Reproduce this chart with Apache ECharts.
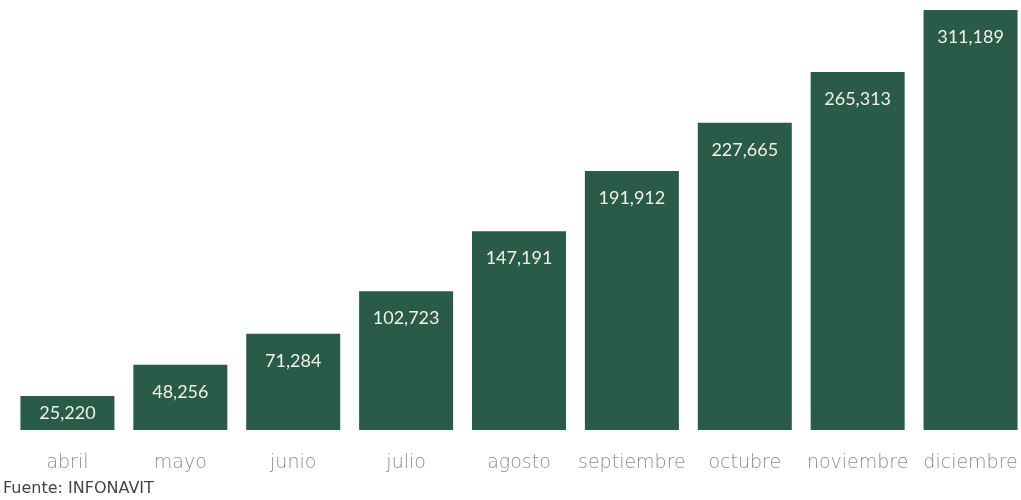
<!DOCTYPE html>
<html>
<head>
<meta charset="utf-8">
<script src="https://cdn.jsdelivr.net/npm/echarts@6/dist/echarts.min.js"></script>
<style>
  html, body { margin: 0; padding: 0; background: #ffffff; }
  #chart { width: 1021px; height: 500px; }
</style>
</head>
<body>
<div id="chart"></div>
<script>
// Monthly cumulative values
const months = ['abril', 'mayo', 'junio', 'julio', 'agosto', 'septiembre', 'octubre', 'noviembre', 'diciembre'];
const values = [25220, 48256, 71284, 102723, 147191, 191912, 227665, 265313, 311189];
const sourceText = 'Fuente: INFONAVIT';

const chart = echarts.init(document.getElementById('chart'));

// The shortest bar keeps its label a little closer to its top edge
const barData = values.map((v, i) => i === 0
  ? { value: v, label: { distance: 8 } }
  : v);

chart.setOption({
  animation: false,
  backgroundColor: '#ffffff',
  grid: {
    left: 11, width: 1016, top: 10, bottom: 70,
    containLabel: false,
    outerBoundsMode: 'none'
  },
  xAxis: {
    type: 'category',
    data: months,
    axisLine: { show: false },
    axisTick: { show: false },
    axisLabel: {
      interval: 0,
      hideOverlap: false,
      color: '#8c8c8c',
      fontFamily: 'DejaVu Sans',
      fontWeight: 200,
      fontSize: 19,
      margin: 24
    }
  },
  yAxis: {
    type: 'value',
    min: 0,
    max: 'dataMax',
    show: false,
    splitLine: { show: false }
  },
  series: [{
    type: 'bar',
    data: barData,
    barWidth: 94,
    itemStyle: { color: '#2a5a48' },
    label: {
      show: true,
      position: 'insideTop',
      distance: 18,
      color: '#f0f0ea',
      fontFamily: 'Lato',
      fontSize: 18,
      formatter: p => p.value.toLocaleString('en-US')
    }
  }],
  graphic: [{
    type: 'text',
    left: 3,
    top: 481,
    style: {
      text: sourceText,
      fill: '#444444',
      font: '16px "DejaVu Sans"'
    }
  }]
});
</script>
</body>
</html>
